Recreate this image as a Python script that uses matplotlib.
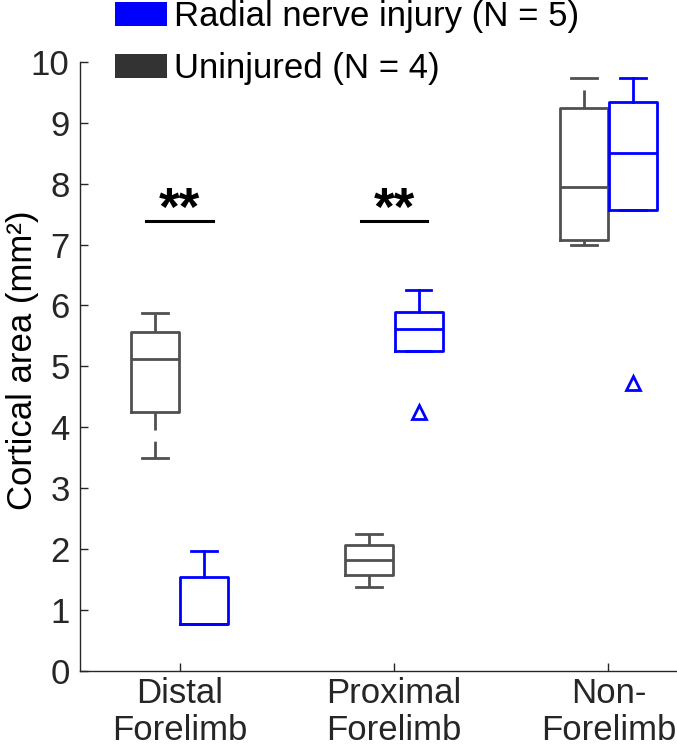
import matplotlib
matplotlib.use("Agg")
import matplotlib.pyplot as plt
from matplotlib.patches import Patch

plt.rcParams['font.family'] = ['Liberation Sans', 'DejaVu Sans']

# ── data ──────────────────────────────────────────────────
groups = ["Distal\nForelimb", "Proximal\nForelimb", "Non-\nForelimb"]
positions = [1, 2, 3]

# Uninjured (N = 4)
ctrl_whislo = [3.50, 1.38, 7.00]
ctrl_q1     = [4.25, 1.57, 7.07]
ctrl_med    = [5.12, 1.82, 7.94]
ctrl_q3     = [5.57, 2.06, 9.24]
ctrl_whishi = [5.88, 2.25, 9.74]
ctrl_fliers = [[], [], []]

# Radial nerve injury (N = 5)
inj_whislo = [0.76, 5.25, 7.57]
inj_q1     = [0.76, 5.25, 7.57]
inj_med    = [0.76, 5.62, 8.50]
inj_q3     = [1.53, 5.89, 9.35]
inj_whishi = [1.96, 6.25, 9.74]
inj_fliers = [[], [4.24], [4.72]]

sig_groups = [0, 1]   # groups marked with **
sig_y = 7.39

ctrl_color = "#505050"
inj_color = "#0000FF"
legend_dark = "#333333"
FS = 25


def make_stats(whislo, q1, med, q3, whishi, fliers):
    return [dict(whislo=a, q1=b, med=c, q3=d, whishi=e, fliers=f)
            for a, b, c, d, e, f in zip(whislo, q1, med, q3, whishi, fliers)]


fig = plt.figure(figsize=(6.77, 7.48), dpi=100)
ax = fig.add_axes([80 / 677, 1 - 670.5 / 748, 597 / 677, (670.5 - 62) / 748])

off = 0.115
bw = 0.224
cw = 0.12
lw = 2.0

ax.bxp(make_stats(ctrl_whislo, ctrl_q1, ctrl_med, ctrl_q3, ctrl_whishi, ctrl_fliers),
       positions=[p - off for p in positions], widths=bw, capwidths=cw,
       boxprops=dict(color=ctrl_color, lw=lw),
       whiskerprops=dict(color=ctrl_color, lw=lw, linestyle=(0, (6.5, 4))),
       capprops=dict(color=ctrl_color, lw=lw),
       medianprops=dict(color=ctrl_color, lw=lw),
       showfliers=True, manage_ticks=False)

ax.bxp(make_stats(inj_whislo, inj_q1, inj_med, inj_q3, inj_whishi, inj_fliers),
       positions=[p + off for p in positions], widths=bw, capwidths=cw,
       boxprops=dict(color=inj_color, lw=lw),
       whiskerprops=dict(color=inj_color, lw=lw),
       capprops=dict(color=inj_color, lw=lw),
       medianprops=dict(color=inj_color, lw=lw),
       flierprops=dict(marker="^", markersize=9.5, markerfacecolor="none",
                       markeredgecolor=inj_color, markeredgewidth=2),
       showfliers=True, manage_ticks=False)

# significance bars
for i in sig_groups:
    p = positions[i]
    ax.plot([p - 0.155, p + 0.155], [sig_y, sig_y], color="black", lw=2.2)
    ax.text(p, sig_y - 0.06, "**", ha="center", va="baseline",
            fontsize=38, fontweight="bold", color="black")

ax.set_xlim(0.536, 3.32)
ax.set_ylim(0, 10)
ax.set_yticks(range(0, 11))
ax.set_xticks(positions)
ax.set_xticklabels(groups, fontsize=FS, linespacing=1.12)
ax.tick_params(axis="y", direction="in", length=6, width=1, labelsize=FS,
               pad=7.5, colors="#262626")
ax.tick_params(axis="x", direction="in", length=6, width=1, labelsize=FS,
               pad=5, colors="#262626")
for s in ["top", "right"]:
    ax.spines[s].set_visible(False)
for s in ["left", "bottom"]:
    ax.spines[s].set_color("#262626")
    ax.spines[s].set_linewidth(1)

ax.set_ylabel("Cortical area (mm²)", fontsize=FS, color="black", va="center")
ax.yaxis.set_label_coords(-0.097, 0.51)

handles = [Patch(facecolor=inj_color, edgecolor="none"),
           Patch(facecolor=legend_dark, edgecolor="none")]
fig.legend(handles, ["Radial nerve injury (N = 5)", "Uninjured (N = 4)"],
           loc="upper left", bbox_to_anchor=(115 / 677, 1.0), frameon=False,
           fontsize=FS, handlelength=1.5, handleheight=0.68, handletextpad=0.2,
           labelspacing=0.55, borderpad=0, borderaxespad=0)

fig.savefig("out.png", dpi=100)
